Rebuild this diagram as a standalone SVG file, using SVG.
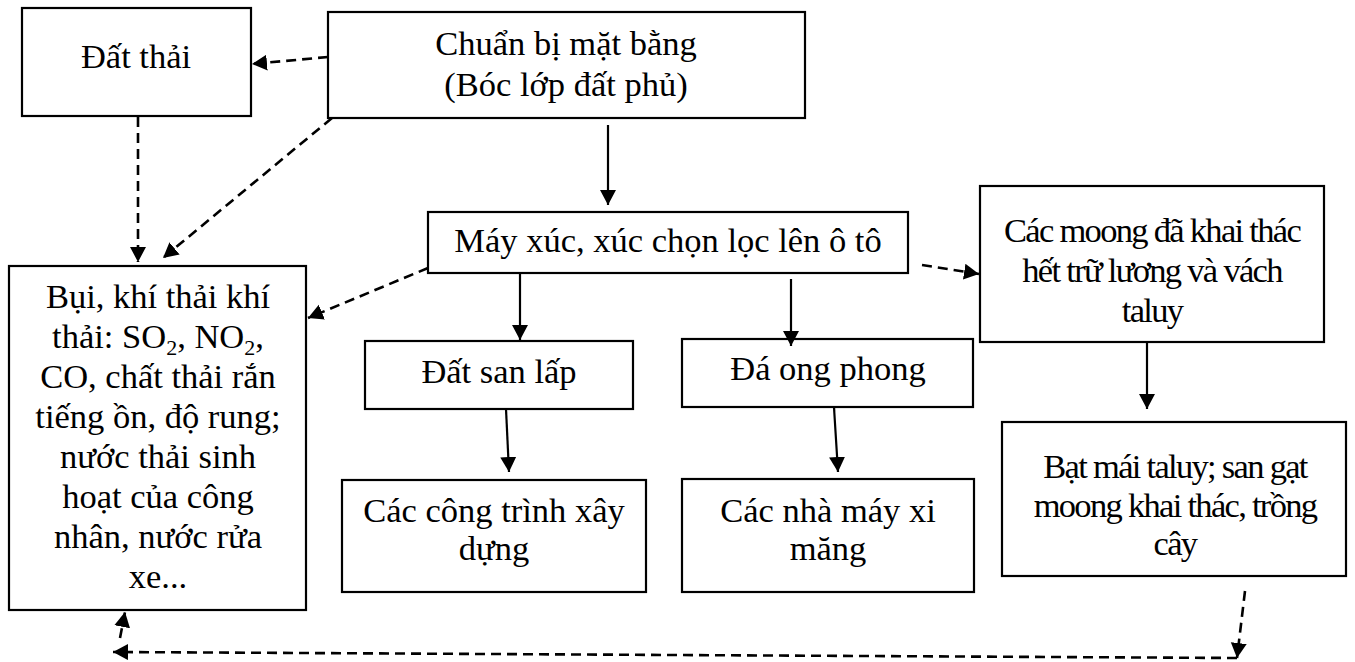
<svg xmlns="http://www.w3.org/2000/svg" width="1355" height="662" viewBox="0 0 1355 662">
<style>
.box{fill:#fff;stroke:#000;stroke-width:2.2}
.t{font-family:"Liberation Serif","Times New Roman",serif;font-size:34.5px;fill:#000;text-anchor:middle}
.tc{letter-spacing:-1.7px}
.sub{font-size:22px}
.solid{fill:none;stroke:#000;stroke-width:2.2;marker-end:url(#ah)}
.dash{fill:none;stroke:#000;stroke-width:2.6;stroke-dasharray:10 6;marker-end:url(#ah)}
</style>
<defs>
<marker id="ah" markerUnits="userSpaceOnUse" markerWidth="18" markerHeight="18" refX="15" refY="8" orient="auto">
<path d="M0,0 L15,8 L0,16 Z" fill="#000"/>
</marker>
</defs>
<rect width="1355" height="662" fill="#fff"/>
<g id="n-dat-thai"><rect class="box" x="22" y="8" width="229" height="108"/><text class="t" x="136" y="68">Đất thải</text></g>
<g id="n-chuan-bi"><rect class="box" x="328" y="12" width="477" height="106"/><text class="t" x="566" y="55">Chuẩn bị mặt bằng</text><text class="t" x="566" y="96">(Bóc lớp đất phủ)</text></g>
<g id="n-may-xuc"><rect class="box" x="428" y="212" width="480" height="61"/><text class="t" x="668" y="252">Máy xúc, xúc chọn lọc lên ô tô</text></g>
<g id="n-bui"><rect class="box" x="9" y="266" width="297" height="344"/>
<text class="t" x="158" y="308">Bụi, khí thải khí</text>
<text class="t" x="158" y="348">thải: SO<tspan class="sub" dy="7">2</tspan><tspan dy="-7">, NO</tspan><tspan class="sub" dy="7">2</tspan><tspan dy="-7">,</tspan></text>
<text class="t" x="158" y="388">CO, chất thải rắn</text>
<text class="t" x="158" y="428">tiếng ồn, độ rung;</text>
<text class="t" x="158" y="468">nước thải sinh</text>
<text class="t" x="158" y="508">hoạt của công</text>
<text class="t" x="158" y="548">nhân, nước rửa</text>
<text class="t" x="158" y="588">xe...</text></g>
<g id="n-dat-san-lap"><rect class="box" x="365" y="341" width="268" height="68"/><text class="t" x="499" y="383">Đất san lấp</text></g>
<g id="n-da-ong"><rect class="box" x="682" y="339" width="291" height="68"/><text class="t" x="828" y="380">Đá ong phong</text></g>
<g id="n-cong-trinh"><rect class="box" x="342" y="480" width="304" height="112"/><text class="t" x="494" y="522">Các công trình xây</text><text class="t" x="494" y="560">dựng</text></g>
<g id="n-nha-may"><rect class="box" x="682" y="479" width="292" height="113"/><text class="t" x="828" y="522">Các nhà máy xi</text><text class="t" x="828" y="560">măng</text></g>
<g id="n-moong"><rect class="box" x="980" y="186" width="344" height="156"/><text class="t tc" x="1152" y="242">Các moong đã khai thác</text><text class="t tc" x="1152" y="282">hết trữ lương và vách</text><text class="t tc" x="1152" y="322">taluy</text></g>
<g id="n-bat-mai"><rect class="box" x="1002" y="422" width="344" height="154"/><text class="t tc" x="1175" y="478">Bạt mái taluy; san gạt</text><text class="t tc" x="1175" y="517">moong khai thác, trồng</text><text class="t tc" x="1175" y="555">cây</text></g>
<g id="connectors">
<path class="dash" d="M328,57 L252,64"/>
<path class="dash" d="M332,118 L163,258"/>
<path class="dash" d="M138,117 L138,262"/>
<path class="solid" d="M608,125 L608,205"/>
<path class="dash" d="M428,268 L308,318"/>
<path class="dash" d="M922,265 L979,274"/>
<path class="solid" d="M520,273 L520,340"/>
<path class="solid" d="M791,279 L791,346"/>
<path class="solid" d="M506,409 L509,472"/>
<path class="solid" d="M834,407 L838,472"/>
<path class="solid" d="M1147,342 L1147,409"/>
<path class="dash" d="M1245,591 L1237,658"/>
<path class="dash" d="M1237,658 L113,652"/>
<path class="dash" d="M120,638 L125,612"/>
</g>
</svg>
